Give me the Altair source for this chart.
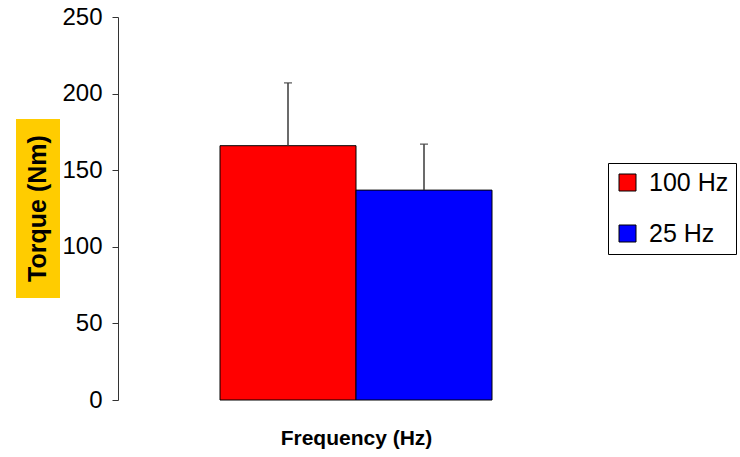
import altair as alt
import pandas as pd

# Mean torque per stimulation frequency, with the upper end of the error bar
groups = ["100 Hz", "25 Hz"]
torque_mean = [166, 137]
torque_upper = [207, 167]
bar_colors = ["#FF0000", "#0000FF"]

y_ticks = [0, 50, 100, 150, 200, 250]

bars_df = pd.DataFrame({"freq": groups, "mean": torque_mean, "upper": torque_upper})
title_df = pd.DataFrame({"label": ["Torque (Nm)"]})

SANS = "Liberation Sans, Arial, sans-serif"

x_enc = alt.X(
    "freq:N",
    sort=groups,
    scale=alt.Scale(paddingInner=0, paddingOuter=0.75),
    axis=alt.Axis(
        title="Frequency (Hz)",
        labels=False,
        ticks=False,
        domain=False,
        titleFont=SANS,
        titleFontSize=21,
        titleFontWeight="bold",
        titleColor="black",
        titlePadding=27,
    ),
)
y_scale = alt.Scale(domain=[0, 250], nice=False)

bars = alt.Chart(bars_df).mark_bar(stroke="black", strokeWidth=1, opacity=1).encode(
    x=x_enc,
    y=alt.Y(
        "mean:Q",
        scale=y_scale,
        axis=alt.Axis(
            title=None,
            values=y_ticks,
            grid=False,
            labelFont=SANS,
            labelFontSize=24,
            labelColor="black",
            labelPadding=10,
            tickSize=6,
            tickColor="#333333",
            domainColor="#333333",
        ),
    ),
    color=alt.Color(
        "freq:N",
        sort=groups,
        scale=alt.Scale(domain=groups, range=bar_colors),
        legend=alt.Legend(
            title=None,
            orient="none",
            legendX=490,
            legendY=146,
            direction="vertical",
            fillColor="white",
            strokeColor="black",
            padding=7,
            symbolType="square",
            symbolSize=289,
            symbolStrokeColor="black",
            symbolStrokeWidth=1,
            symbolOpacity=1,
            labelFont=SANS,
            labelFontSize=25,
            labelColor="black",
            labelOffset=9,
            rowPadding=25,
        ),
    ),
)

err_line = alt.Chart(bars_df).mark_rule(color="#3a3a3a", strokeWidth=1.5).encode(
    x=alt.X("freq:N", sort=groups),
    y=alt.Y("mean:Q", scale=y_scale),
    y2="upper:Q",
)

err_cap = alt.Chart(bars_df).mark_tick(color="#3a3a3a", thickness=1.5, size=8, orient="horizontal").encode(
    x=alt.X("freq:N", sort=groups),
    y=alt.Y("upper:Q", scale=y_scale),
)

# Y-axis title drawn as a label on a highlighted box
title_box = alt.Chart(title_df).mark_rect(color="#FFCC00").encode(
    x=alt.value(-102), x2=alt.value(-58), y=alt.value(102), y2=alt.value(281)
)
title_text = alt.Chart(title_df).mark_text(
    angle=270, font=SANS, fontSize=25, fontWeight="bold", color="black",
    align="center", baseline="middle",
).encode(text="label:N", x=alt.value(-80), y=alt.value(191.5))

chart = (
    alt.layer(bars, err_line, err_cap, title_box, title_text)
    .properties(
        width=476,
        height=383,
        autosize=alt.AutoSizeParams(type="none"),
        padding={"left": 118, "top": 17, "right": 146, "bottom": 57},
        background="white",
    )
    .configure_view(stroke=None)
)

chart.save("out.html", embed_options={"renderer": "svg", "actions": False})
